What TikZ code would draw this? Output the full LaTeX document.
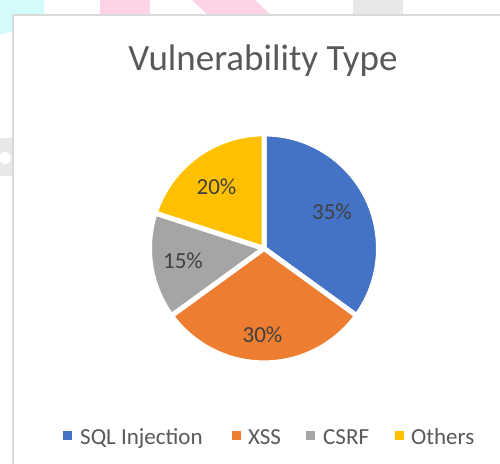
\documentclass[tikz,border=0pt]{standalone}
\usepackage{fontspec}
\setmainfont{Carlito}
\definecolor{sqlblue}{HTML}{4472C4}
\definecolor{xssorange}{HTML}{ED7D31}
\definecolor{csrfgrey}{HTML}{A5A5A5}
\definecolor{othyellow}{HTML}{FFC000}
\definecolor{framegrey}{HTML}{D9D9D9}
\definecolor{titlegrey}{HTML}{595959}
\definecolor{labelgrey}{HTML}{404040}
\definecolor{wmcyan}{HTML}{D4FBFB}
\definecolor{wmpink}{HTML}{FFD3E7}
\definecolor{wmgrey}{HTML}{E8E8E8}
\tikzset{
  slice/.style={draw=white, line width=5pt, line join=round},
  pctlabel/.style={anchor=base, inner sep=0pt, text=labelgrey, font=\fontsize{23}{26}\selectfont},
  legtext/.style={anchor=base west, inner sep=0pt, text=titlegrey, font=\fontsize{23}{26}\selectfont},
  legkey/.style={minimum size=9pt, inner sep=0pt, draw=none},
}
\begin{document}
\begin{tikzpicture}[x=1pt, y=1pt]
  \useasboundingbox (0,0) rectangle (500,463);
  \clip (0,0) rectangle (500,463);
  % faint background marks around the chart area
  \fill[wmcyan] (0,463) -- (44,463) -- (44,444) -- (13,444) -- (13,432)
    .. controls (9,430) and (4,429) .. (0,429) -- cycle;
  \fill[wmpink] (100,463) rectangle (150,444);
  \fill[wmpink] (192,463) -- (255,463) -- (275,444) -- (212,444) -- cycle;
  \fill[wmgrey] (353,463) rectangle (403,444);
  \fill[wmgrey] (0,325) rectangle (13,287);
  \fill[white] (5,305) circle (6);
  % chart area
  \draw[framegrey, fill=white, line width=1.5pt] (13,-20) rectangle (530,448);
  % title
  \node[anchor=base, inner sep=0pt, text=titlegrey, font=\fontsize{37}{42}\selectfont]
    (title) at (263,392) {Vulnerability Type};
  % pie
  \coordinate (c) at (264,214.6);
  \def\R{114.5}
  \filldraw[slice, fill=sqlblue]    (c) -- ++(90:\R)   arc[start angle=90,   end angle=-36,  radius=\R] -- cycle;
  \filldraw[slice, fill=xssorange]  (c) -- ++(-36:\R)  arc[start angle=-36,  end angle=-144, radius=\R] -- cycle;
  \filldraw[slice, fill=csrfgrey]   (c) -- ++(-144:\R) arc[start angle=-144, end angle=-198, radius=\R] -- cycle;
  \filldraw[slice, fill=othyellow]  (c) -- ++(162:\R)  arc[start angle=162,  end angle=90,   radius=\R] -- cycle;
  % data labels
  \node[pctlabel] (p35) at (332,243.7) {35\%};
  \node[pctlabel] (p30) at (262.5,120.3) {30\%};
  \node[pctlabel] (p15) at (183,194.7) {15\%};
  \node[pctlabel] (p20) at (216.5,268) {20\%};
  % legend
  \node[legkey, fill=sqlblue]   (k1) at (67.5,28) {};
  \node[legtext] (l1) at (80,19) {SQL Injection};
  \node[legkey, fill=xssorange] (k2) at (236,28) {};
  \node[legtext] (l2) at (248,19) {XSS};
  \node[legkey, fill=csrfgrey]  (k3) at (310.5,28) {};
  \node[legtext] (l3) at (323,19) {CSRF};
  \node[legkey, fill=othyellow] (k4) at (399.5,28) {};
  \node[legtext] (l4) at (411,19) {Others};
\end{tikzpicture}
\end{document}
